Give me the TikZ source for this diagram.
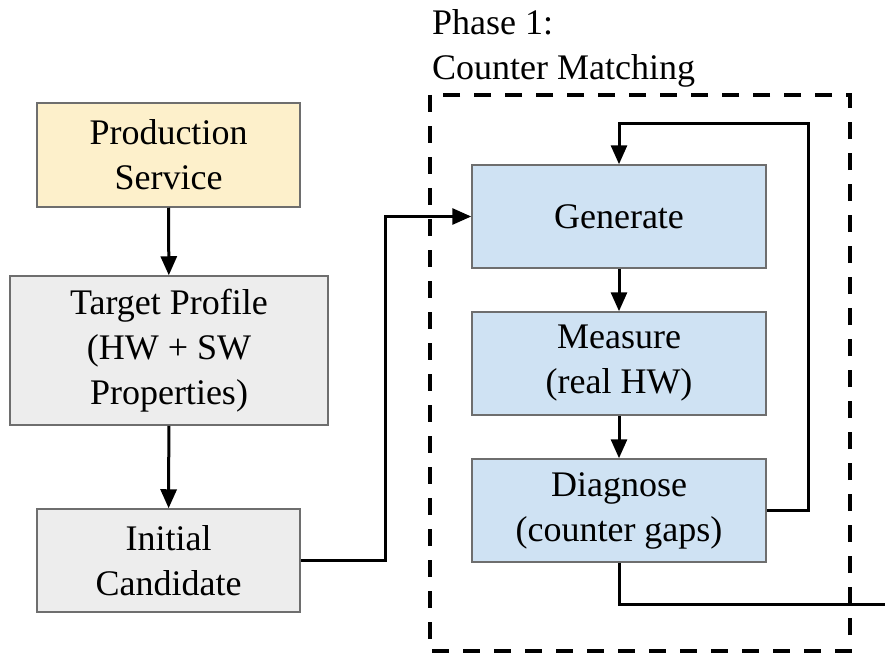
\documentclass[tikz,border=0pt]{standalone}
\usepackage{fontspec}
\setmainfont{Liberation Serif}
\usetikzlibrary{arrows.meta}
\definecolor{yel}{HTML}{FDF0CB}
\definecolor{gry}{HTML}{EDEDED}
\definecolor{blu}{HTML}{CFE2F3}
\definecolor{bord}{HTML}{6E6E6E}
\begin{document}
\begin{tikzpicture}[x=1pt,y=-1pt,
  box/.style={draw=bord,line width=1.5pt,align=center,inner sep=0pt,
    font=\fontsize{36}{45}\selectfont},
  conn/.style={line width=3pt,draw=black},
  arr/.style={conn,-{Triangle[length=19pt,width=16pt]}}]
\useasboundingbox (0,0) rectangle (885,658);
\node[box,fill=yel,minimum width=263pt,minimum height=104pt] (prod) at (168.5,155) {Production\\Service};
\node[box,fill=gry,minimum width=318pt,minimum height=149pt] (targ) at (169,350.5) {Target Profile\\(HW + SW\\Properties)};
\node[box,fill=gry,minimum width=263pt,minimum height=103pt] (init) at (168.5,560.5) {Initial\\Candidate};
\node[box,fill=blu,minimum width=294pt,minimum height=103pt] (gen) at (619,216.5) {Generate};
\node[box,fill=blu,minimum width=294pt,minimum height=103pt] (meas) at (619,363.5) {Measure\\(real HW)};
\node[box,fill=blu,minimum width=294pt,minimum height=103pt] (diag) at (619,510.5) {Diagnose\\(counter gaps)};
\node[anchor=base west,align=left,inner sep=0pt,font=\fontsize{36}{45}\selectfont] (title) at (432,80) {Phase 1:\\Counter Matching};
\draw[line width=4pt,dash pattern=on 17pt off 14pt] (430,95) rectangle (850,651);
\coordinate (loop) at (808,123);
\coordinate (exit) at (885,604);
\draw[arr] (prod) -- (targ);
\draw[arr] (targ) -- (init);
\draw[arr] (init.east) -- ++(85,0) |- (gen.west);
\draw[arr] (gen) -- (meas);
\draw[arr] (meas) -- (diag);
\draw[arr] (diag.east) -| (loop) -| (gen.north);
\draw[conn] (diag.south) |- (exit);
\end{tikzpicture}
\end{document}
